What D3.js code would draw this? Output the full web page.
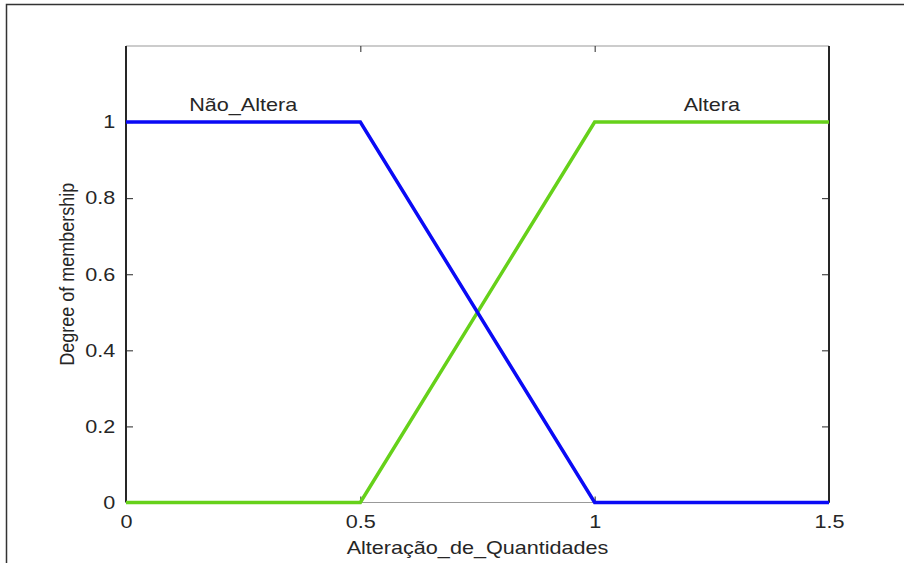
<!DOCTYPE html>
<html>
<head>
<meta charset="utf-8">
<script src="https://cdn.jsdelivr.net/npm/d3@7"></script>
<style>
  body { margin: 0; background: #fff; }
  text { font-family: "Liberation Sans", Arial, sans-serif; fill: #262626; }
</style>
</head>
<body>
<script>
// membership functions (trapezoids)
const xPoints = [0, 0.5, 1, 1.5];
const naoAltera = [1, 1, 0, 0];
const altera = [0, 0, 1, 1];
const mfNames = ["Não_Altera", "Altera"];
const mfLabelX = [0.25, 1.25];
const xTicks = [0, 0.5, 1, 1.5];
const yTicks = [0, 0.2, 0.4, 0.6, 0.8, 1];

const W = 904, H = 563;
const mLeft = 126, mRight = 829, mTop = 46, mBottom = 502.5;
const stretch = 1.2; // the picture's text is a bit wide

const svg = d3.select("body").append("svg")
    .attr("width", W)
    .attr("height", H);

// outer figure frame (cut off on right/bottom)
svg.append("rect")
    .attr("x", 6.5).attr("y", 4.5)
    .attr("width", W + 20).attr("height", H + 20)
    .attr("fill", "none")
    .attr("stroke", "#333")
    .attr("stroke-width", 1.5);

const x = d3.scaleLinear().domain([0, 1.5]).range([mLeft, mRight]);
const y = d3.scaleLinear().domain([0, 1.2]).range([mBottom, mTop]);

// box: top/bottom light, left/right dark
svg.append("line")
    .attr("x1", mLeft).attr("x2", mRight).attr("y1", mTop).attr("y2", mTop)
    .attr("stroke", "#999").attr("stroke-width", 1);
svg.append("line")
    .attr("x1", mLeft).attr("x2", mRight).attr("y1", mBottom).attr("y2", mBottom)
    .attr("stroke", "#999").attr("stroke-width", 1);

// inward ticks
const xAxis = svg.append("g")
    .attr("transform", `translate(0,${mBottom})`)
    .call(d3.axisBottom(x).tickValues(xTicks).tickSize(-6).tickPadding(13)
        .tickFormat(d3.format("")));
xAxis.select(".domain").remove();
xAxis.selectAll("line").attr("stroke", "#262626");
xAxis.selectAll("text")
    .attr("font-size", 18)
    .attr("dy", "0.71em")
    .attr("transform", `scale(${stretch},1)`);

const xAxisTop = svg.append("g")
    .attr("transform", `translate(0,${mTop})`)
    .call(d3.axisTop(x).tickValues(xTicks).tickSize(-6).tickFormat(""));
xAxisTop.select(".domain").remove();
xAxisTop.selectAll("line").attr("stroke", "#262626");

const yAxis = svg.append("g")
    .attr("transform", `translate(${mLeft},0)`)
    .call(d3.axisLeft(y).tickValues(yTicks).tickSize(-7).tickPadding(9)
        .tickFormat(d3.format("")));
yAxis.select(".domain").remove();
yAxis.selectAll("line").attr("stroke", "#262626");
yAxis.selectAll("text")
    .attr("font-size", 18)
    .attr("transform", `scale(${stretch},1)`);

const yAxisRight = svg.append("g")
    .attr("transform", `translate(${mRight},0)`)
    .call(d3.axisRight(y).tickValues(yTicks).tickSize(-7).tickFormat(""));
yAxisRight.select(".domain").remove();
yAxisRight.selectAll("line").attr("stroke", "#262626");

svg.append("line")
    .attr("x1", mLeft).attr("x2", mLeft).attr("y1", mTop).attr("y2", mBottom)
    .attr("stroke", "#262626").attr("stroke-width", 2);
svg.append("line")
    .attr("x1", mRight).attr("x2", mRight).attr("y1", mTop).attr("y2", mBottom)
    .attr("stroke", "#262626").attr("stroke-width", 2);

// curves
const line = d3.line()
    .x((d, i) => x(xPoints[i]))
    .y(d => y(d));

svg.append("path")
    .attr("d", line(altera))
    .attr("fill", "none")
    .attr("stroke", "#66d11a")
    .attr("stroke-width", 3.5);

svg.append("path")
    .attr("d", line(naoAltera))
    .attr("fill", "none")
    .attr("stroke", "#0a0af5")
    .attr("stroke-width", 3.5);

// mf labels
svg.selectAll(".mflabel")
    .data(mfNames)
    .join("text")
    .attr("class", "mflabel")
    .attr("transform", (d, i) => `translate(${x(mfLabelX[i])},${y(1.05)}) scale(${stretch},1)`)
    .attr("dy", "0.46em")
    .attr("text-anchor", "middle")
    .attr("font-size", 18)
    .text(d => d);

// axis titles
svg.append("text")
    .attr("transform", `translate(${(mLeft + mRight) / 2},554) scale(${stretch},1)`)
    .attr("text-anchor", "middle")
    .attr("font-size", 18)
    .text("Alteração_de_Quantidades");

svg.append("text")
    .attr("transform", `translate(73.5,${(mTop + mBottom) / 2}) scale(1.08,1) rotate(-90)`)
    .attr("text-anchor", "middle")
    .attr("font-size", 18)
    .text("Degree of membership");
</script>
</body>
</html>
